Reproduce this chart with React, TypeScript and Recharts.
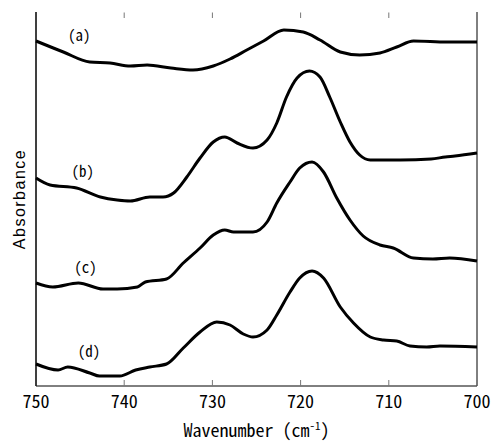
import { LineChart, Line, XAxis, YAxis, Label, ReferenceDot, ReferenceLine, CartesianGrid } from 'recharts'

// wavenumber (cm-1) / absorbance (offset, arbitrary units)
const waveA = [750, 746.9, 743.9, 741.6, 739.3, 737.4, 734.7, 732.2, 729.9, 728.0, 726.1, 724.2, 721.9, 719.7, 717.8, 715.5, 713.3, 711.0, 709.1, 707.2, 703.4, 700]
const absA = [345, 334, 324, 323, 320, 321, 318, 316, 320, 327, 336, 345, 356, 354, 346, 334, 331, 333, 339, 345, 344, 344]

const waveB = [750, 748.4, 745.4, 742.7, 740.8, 739.3, 737.1, 735.6, 734.4, 732.9, 731.4, 729.9, 728.6, 727.2, 725.4, 723.8, 722.7, 721.6, 720.4, 719.0, 717.8, 716.7, 715.5, 714.4, 713.3, 712.1, 708.7, 705.2, 703.6, 702.5, 700]
const absB = [208, 201, 198, 189, 186, 185, 189, 189, 193, 209, 228, 244, 249, 243, 238, 246, 263, 289, 308, 315, 309, 289, 264, 244, 231, 226, 226, 227, 229, 230, 233]

const waveC = [750, 748.1, 745.2, 742.4, 740.8, 738.5, 737.6, 735.2, 733.3, 731.4, 729.9, 728.6, 727.6, 725.4, 723.8, 722.7, 721.2, 720.1, 718.7, 717.4, 715.9, 714.4, 712.9, 711.0, 709.5, 707.2, 705.0, 703.1, 700]
const absC = [103, 99, 103, 97, 97, 99, 104, 107, 123, 138, 151, 156, 154, 154, 164, 183, 204, 218, 224, 214, 188, 166, 150, 141, 138, 128, 127, 128, 125]

const waveD = [750, 747.5, 746.4, 743.9, 742.8, 740.5, 738.7, 737.1, 735.2, 733.3, 731.4, 729.5, 728.0, 726.5, 725.4, 723.8, 722.7, 721.2, 720.1, 718.7, 717.4, 715.5, 714.0, 712.1, 710.6, 709.1, 707.6, 705.7, 704.2, 700]
const absD = [22, 16, 19, 13, 10, 10, 16, 19, 22, 38, 54, 64, 61, 52, 49, 56, 71, 94, 108, 115, 108, 79, 63, 49, 46, 45, 40, 39, 40, 39]

const curveLabels = ['(a)', '(b)', '(c)', '(d)']
const labelWave = [745.1, 744.7, 744.4, 744.0]
const labelAbs = [350, 214, 118, 34]

const xTicks = [750, 740, 730, 720, 710, 700]
const yTop = 374
const topTickLen = 6

const zip = (w: number[], a: number[]) => w.map((x, i) => ({ w: x, abs: a[i] }))
const series = [zip(waveA, absA), zip(waveB, absB), zip(waveC, absC), zip(waveD, absD)]

const gothic = '"Noto Sans Mono CJK JP", "Liberation Sans Narrow", "Liberation Sans", sans-serif'

function XLabel(props: any) {
  const vb = props.viewBox
  const cx = vb.x + vb.width / 2
  return (
    <text x={cx} y={vb.y + 51} textAnchor="middle" fontFamily={gothic} fontSize={18} fill="#000">
      <tspan>Wavenumber (cm</tspan>
      <tspan dy={-7} fontSize={11}>-1</tspan>
      <tspan dy={7}>)</tspan>
    </text>
  )
}

function YLabel(props: any) {
  const vb = props.viewBox
  const x = vb.x + 25
  const y = vb.y + vb.height / 2
  return (
    <text
      x={x}
      y={y}
      transform={`rotate(-90, ${x}, ${y})`}
      textAnchor="middle"
      fontFamily='"Liberation Sans", Arial, sans-serif'
      fontSize={16}
      letterSpacing={1.5}
      fill="#000"
    >
      Absorbance
    </text>
  )
}

export default function App() {
  return (
    <div style={{ position: 'absolute', left: 0, top: 0, width: 494, height: 441 }}>
      <LineChart width={494} height={441} margin={{ top: 12, right: 17, left: 0, bottom: 0 }}>
        {/* plot frame */}
        <CartesianGrid stroke="#000" horizontalValues={[0, yTop]} verticalValues={[750, 700]} />
        <XAxis
          type="number"
          dataKey="w"
          domain={[700, 750]}
          reversed
          ticks={xTicks}
          height={55}
          tickSize={-6}
          tickMargin={15}
          axisLine={{ stroke: '#000' }}
          tickLine={{ stroke: '#777' }}
          tick={{ fill: '#000', fontSize: 18, fontFamily: gothic }}
          interval={0}
        >
          <Label content={XLabel} />
        </XAxis>
        <YAxis
          type="number"
          domain={[0, yTop]}
          width={36}
          tick={false}
          tickLine={false}
          axisLine={{ stroke: '#000' }}
        >
          <Label content={YLabel} />
        </YAxis>
        {xTicks.slice(1, -1).map((t) => (
          <ReferenceLine
            key={t}
            segment={[{ x: t, y: yTop - 0.5 }, { x: t, y: yTop - topTickLen }]}
            stroke="#777"
            ifOverflow="visible"
          />
        ))}
        {series.map((d, i) => (
          <Line
            key={i}
            data={d}
            dataKey="abs"
            type="monotone"
            stroke="#000"
            strokeWidth={3}
            dot={false}
            isAnimationActive={false}
          />
        ))}
        {curveLabels.map((t, i) => (
          <ReferenceDot
            key={t}
            x={labelWave[i]}
            y={labelAbs[i]}
            r={0}
            fill="none"
            stroke="none"
            label={{ value: t, position: 'center', fontSize: 15, fontFamily: gothic, fill: '#000' }}
          />
        ))}
      </LineChart>
    </div>
  )
}
